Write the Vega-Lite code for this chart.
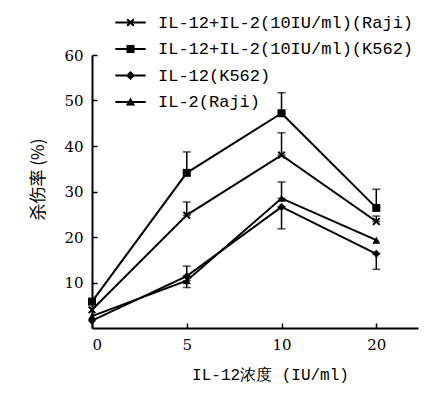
{
  "$schema": "https://vega.github.io/schema/vega-lite/v6.json",
  "autosize": "none",
  "width": 326,
  "height": 273,
  "padding": {"left": 92, "top": 55, "right": 22, "bottom": 71},
  "background": "white",
  "config": {
    "view": {"stroke": null},
    "font": "DejaVu Serif",
    "axis": {"grid": false, "domainColor": "black", "domainWidth": 2, "tickColor": "black", "tickWidth": 1.5, "labelColor": "black", "titleColor": "black", "labelFont": "DejaVu Serif", "titleFont": "Liberation Mono", "labelFontSize": 15, "titleFontSize": 16, "titleFontWeight": "normal"}
  },
  "datasets": {
    "pts": [
      {"series": "IL-12+IL-2(10IU/ml)(Raji)", "idx": 0, "conc": 0, "v": 4.0},
      {"series": "IL-12+IL-2(10IU/ml)(Raji)", "idx": 1, "conc": 5, "v": 24.8},
      {"series": "IL-12+IL-2(10IU/ml)(Raji)", "idx": 2, "conc": 10, "v": 38.0},
      {"series": "IL-12+IL-2(10IU/ml)(Raji)", "idx": 3, "conc": 20, "v": 23.4},
      {"series": "IL-12+IL-2(10IU/ml)(K562)", "idx": 0, "conc": 0, "v": 5.8},
      {"series": "IL-12+IL-2(10IU/ml)(K562)", "idx": 1, "conc": 5, "v": 34.1},
      {"series": "IL-12+IL-2(10IU/ml)(K562)", "idx": 2, "conc": 10, "v": 47.2},
      {"series": "IL-12+IL-2(10IU/ml)(K562)", "idx": 3, "conc": 20, "v": 26.4},
      {"series": "IL-12(K562)", "idx": 0, "conc": 0, "v": 1.6},
      {"series": "IL-12(K562)", "idx": 1, "conc": 5, "v": 11.4},
      {"series": "IL-12(K562)", "idx": 2, "conc": 10, "v": 26.6},
      {"series": "IL-12(K562)", "idx": 3, "conc": 20, "v": 16.3},
      {"series": "IL-2(Raji)", "idx": 0, "conc": 0, "v": 2.6},
      {"series": "IL-2(Raji)", "idx": 1, "conc": 5, "v": 10.4},
      {"series": "IL-2(Raji)", "idx": 2, "conc": 10, "v": 28.5},
      {"series": "IL-2(Raji)", "idx": 3, "conc": 20, "v": 19.3}
    ],
    "errs": [
      {"idx": 1, "lo": 34.1, "hi": 38.7},
      {"idx": 2, "lo": 47.2, "hi": 51.7},
      {"idx": 3, "lo": 26.4, "hi": 30.5},
      {"idx": 1, "lo": 24.8, "hi": 27.7},
      {"idx": 2, "lo": 38.0, "hi": 42.9},
      {"idx": 3, "lo": 23.4, "hi": 24.6},
      {"idx": 1, "lo": 11.4, "hi": 13.6},
      {"idx": 2, "lo": 21.8, "hi": 26.6},
      {"idx": 3, "lo": 12.9, "hi": 16.3},
      {"idx": 1, "lo": 8.9, "hi": 10.4},
      {"idx": 2, "lo": 28.5, "hi": 32.1}
    ]
  },
  "resolve": {"scale": {"shape": "independent"}, "legend": {"shape": "independent"}},
  "layer": [
    {
      "data": {"name": "errs"},
      "mark": {"type": "errorbar", "ticks": {"size": 8, "color": "black", "strokeWidth": 1.5}, "color": "black", "thickness": 1.5},
      "encoding": {
        "x": {"field": "idx", "type": "quantitative", "title": "IL-12浓度 (IU/ml)"},
        "y": {"field": "lo", "type": "quantitative", "title": "杀伤率 (%)"},
        "y2": {"field": "hi"}
      }
    },
    {
      "data": {"name": "pts"},
      "mark": {"type": "line", "color": "black", "strokeWidth": 2},
      "encoding": {
        "x": {"field": "idx", "type": "quantitative", "scale": {"domain": [0, 3.44], "nice": false, "zero": false},
          "axis": {"values": [0, 1, 2, 3], "labelExpr": "[0,5,10,20][datum.value]", "tickSize": -5, "labelPadding": 14, "labelDx": 4, "title": "IL-12浓度 (IU/ml)", "titlePadding": 14, "titleX": 178}},
        "y": {"field": "v", "type": "quantitative", "scale": {"domain": [0, 60], "nice": false},
          "axis": {"values": [10, 20, 30, 40, 50, 60], "tickSize": -5, "labelPadding": 14, "title": "杀伤率 (%)", "titlePadding": 16, "titleFont": "Noto Sans CJK SC", "titleFontSize": 17, "titleY": 124}},
        "detail": {"field": "series"}
      }
    },
    {
      "data": {"name": "pts"},
      "mark": {"type": "point", "filled": true, "color": "black", "size": 64, "opacity": 1},
      "encoding": {
        "x": {"field": "idx", "type": "quantitative"},
        "y": {"field": "v", "type": "quantitative"},
        "shape": {"field": "series", "type": "nominal",
          "scale": {"domain": ["IL-12+IL-2(10IU/ml)(Raji)", "IL-12+IL-2(10IU/ml)(K562)", "IL-12(K562)", "IL-2(Raji)"],
            "range": ["M-1,-0.65L-0.65,-1L0,-0.35L0.65,-1L1,-0.65L0.35,0L1,0.65L0.65,1L0,0.35L-0.65,1L-1,0.65L-0.35,0Z", "square", "diamond", "triangle-up"]},
          "legend": null
        }
      }
    },
    {
      "data": {"name": "pts"},
      "mark": {"type": "point", "filled": true, "color": "black", "size": 64, "opacity": 0},
      "encoding": {
        "x": {"field": "idx", "type": "quantitative"},
        "y": {"field": "v", "type": "quantitative"},
        "shape": {"field": "series", "type": "nominal",
          "scale": {"domain": ["IL-12+IL-2(10IU/ml)(Raji)", "IL-12+IL-2(10IU/ml)(K562)", "IL-12(K562)", "IL-2(Raji)"],
            "range": [
              "M-3.8,-0.25H3.8V0.25H-3.8ZM-1,-0.65L-0.65,-1L0,-0.35L0.65,-1L1,-0.65L0.35,0L1,0.65L0.65,1L0,0.35L-0.65,1L-1,0.65L-0.35,0Z",
              "M-3.8,-0.25H3.8V0.25H-3.8ZM-1,-1H1V1H-1Z",
              "M-3.8,-0.25H3.8V0.25H-3.8ZM0,-1.15L1.15,0L0,1.15L-1.15,0Z",
              "M-3.8,-0.25H3.8V0.25H-3.8ZM0,-1.1L1.15,0.9H-1.15Z"
            ]},
          "legend": {
            "orient": "none", "legendX": 30, "legendY": -41, "title": null,
            "symbolSize": 64, "symbolOpacity": 1, "symbolFillColor": "black", "symbolStrokeColor": "black", "symbolStrokeWidth": 0,
            "labelFont": "Liberation Mono", "labelFontSize": 17, "labelColor": "black", "labelOffset": 19, "labelLimit": 0, "rowPadding": 8.5
          }
        }
      }
    }
  ]
}
